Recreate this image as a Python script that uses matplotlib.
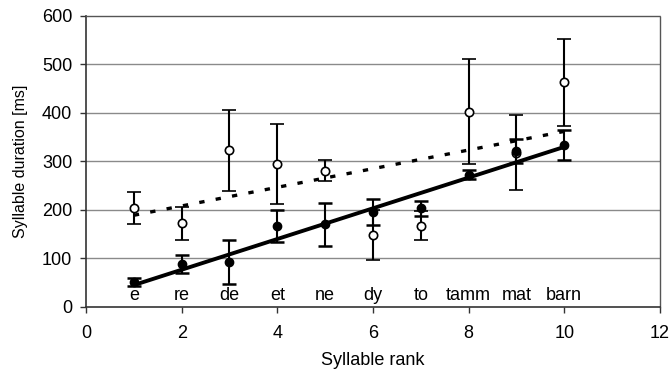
import numpy as np
import matplotlib
matplotlib.use("Agg")
import matplotlib.pyplot as plt

plt.rcParams['font.family'] = ['Liberation Sans', 'DejaVu Sans']

# syllable rank and labels
rank = [1, 2, 3, 4, 5, 6, 7, 8, 9, 10]
syllables = ['e', 're', 'de', 'et', 'ne', 'dy', 'to', 'tamm', 'mat', 'barn']

# filled series (mean, error)
filled_mean = [52, 89, 92, 166, 170, 195, 203, 273, 322, 334]
filled_err = [8, 19, 45, 33, 45, 27, 15, 10, 25, 31]

# open series (mean, error)
open_mean = [204, 173, 323, 295, 281, 148, 167, 403, 318, 463]
open_err = [33, 34, 84, 82, 22, 52, 30, 108, 77, 90]

# trend lines (endpoints at rank 1 and 10)
trend_x = [1, 10]
trend_filled = [45, 330]
trend_open = [189, 362]

fig = plt.figure(figsize=(6.72, 3.72), dpi=100)
ax = fig.add_axes([0.128, 0.175, 0.854, 0.782])

ax.set_xlim(0, 12)
ax.set_ylim(0, 600)

# grid lines
for yv in [100, 200, 300, 400, 500]:
    ax.axhline(yv, color='#8a8a8a', linewidth=1.0, zorder=0)

# trend lines
ax.plot(trend_x, trend_filled, color='black', linewidth=2.8, zorder=2,
        solid_capstyle='butt')
ax.plot(trend_x, trend_open, color='black', linewidth=2.4, zorder=2,
        linestyle=(0, (1.6, 3.4)))

# error bars + markers
ax.errorbar(rank, open_mean, yerr=open_err, fmt='o', color='black',
            markerfacecolor='white', markeredgecolor='black', markersize=6,
            markeredgewidth=1.2, elinewidth=1.5, capsize=5, capthick=1.8, zorder=3)
ax.errorbar(rank, filled_mean, yerr=filled_err, fmt='o', color='black',
            markerfacecolor='black', markersize=6, elinewidth=1.5,
            capsize=5, capthick=1.8, zorder=4)

# syllable labels along the bottom
for r, s in zip(rank, syllables):
    ax.text(r, 24, s, ha='center', va='center', fontsize=13)

ax.set_xticks(range(0, 13, 2))
ax.set_yticks(range(0, 601, 100))
ax.tick_params(labelsize=13, length=4, width=1, direction='out', color='#333333')
ax.tick_params(axis='x', pad=9)
ax.tick_params(axis='y', pad=6)

for side in ['left', 'bottom']:
    ax.spines[side].set_color('#333333')
    ax.spines[side].set_linewidth(1.2)
for side in ['top', 'right']:
    ax.spines[side].set_color('#555555')
    ax.spines[side].set_linewidth(1.0)
    ax.spines[side].set_linestyle((0, (1, 1)))

ax.set_xlabel('Syllable rank', fontsize=13, labelpad=7)
ax.set_ylabel('Syllable duration [ms]', fontsize=11.5, labelpad=10)

fig.savefig('out.png', dpi=100)
